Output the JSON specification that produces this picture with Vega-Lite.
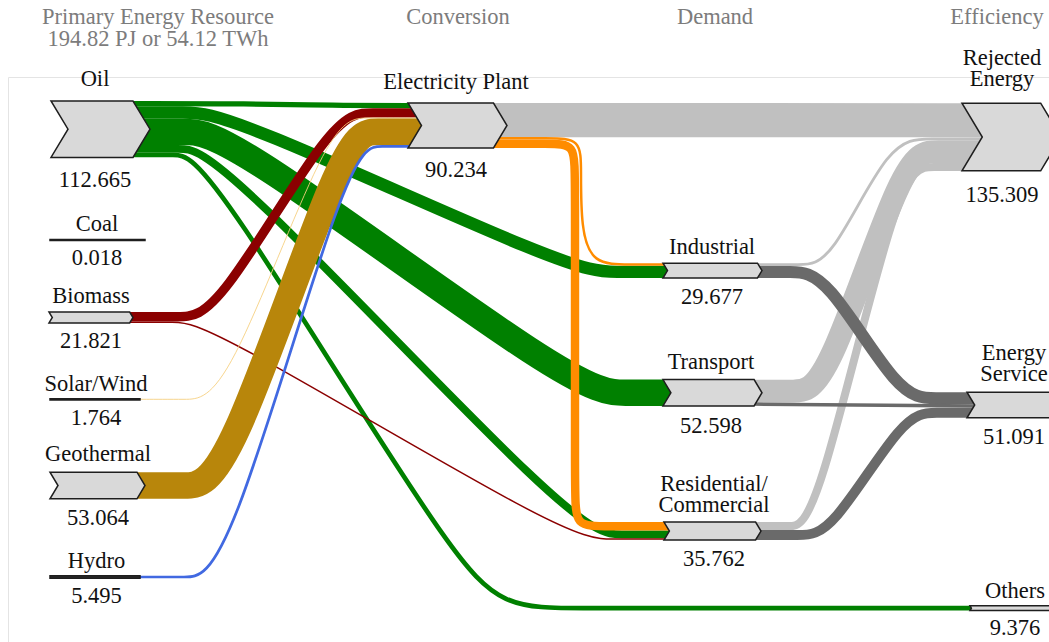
{
  "$schema": "https://vega.github.io/schema/vega-lite/v6.json",
  "autosize": "none",
  "width": 1041,
  "height": 565,
  "padding": {"left": 8, "top": 77, "right": 0, "bottom": 0},
  "background": "white",
  "config": {"view": {"stroke": "#e4e4e4", "strokeWidth": 1}, "font": "Liberation Serif"},
  "datasets": {
    "flows": [
      {"id": "oil-elec", "source": "Oil", "target": "Electricity Plant", "carrier": "Oil", "value": 10.5, "xs": [132, 250, 330, 424], "ys": [103.67, 103.67, 105.56, 105.56]},
      {"id": "oil-ind", "source": "Oil", "target": "Industrial", "carrier": "Oil", "value": 24.7, "xs": [132, 185, 225, 575, 615, 670], "ys": [112.47, 112.47, 112.47, 271.9, 271.9, 271.9]},
      {"id": "oil-trans", "source": "Oil", "target": "Transport", "carrier": "Oil", "value": 52.598, "xs": [132, 185, 225, 580, 625, 673], "ys": [131.79, 131.79, 131.79, 392.75, 392.75, 392.75]},
      {"id": "oil-res", "source": "Oil", "target": "Residential/Commercial", "carrier": "Oil", "value": 15.5, "xs": [132, 180, 215, 580, 620, 672], "ys": [148.82, 148.82, 148.82, 534.4, 534.4, 534.4]},
      {"id": "oil-others", "source": "Oil", "target": "Others", "carrier": "Oil", "value": 9.376, "xs": [132, 175, 205, 480, 525, 973], "ys": [155.03, 155.03, 155.03, 608.2, 608.2, 608.2]},
      {"id": "bio-elec", "source": "Biomass", "target": "Electricity Plant", "carrier": "Biomass", "value": 18.8, "xs": [128, 180, 215, 335, 370, 424], "ys": [316.75, 316.75, 316.75, 112.89, 112.89, 112.89]},
      {"id": "bio-res", "source": "Biomass", "target": "Residential/Commercial", "carrier": "Biomass", "value": 3.0, "xs": [128, 175, 205, 570, 610, 672], "ys": [322.2, 322.2, 322.2, 539.05, 539.05, 539.05]},
      {"id": "solar-elec", "source": "Solar/Wind", "target": "Electricity Plant", "carrier": "Solar/Wind", "value": 1.764, "xs": [139, 185, 225, 330, 365, 424], "ys": [399.3, 399.3, 399.3, 118.03, 118.03, 118.03]},
      {"id": "geo-elec", "source": "Geothermal", "target": "Electricity Plant", "carrier": "Geothermal", "value": 53.064, "xs": [136, 185, 225, 345, 375, 424], "ys": [485.5, 485.5, 485.5, 131.74, 131.74, 131.74]},
      {"id": "hydro-elec", "source": "Hydro", "target": "Electricity Plant", "carrier": "Hydro", "value": 5.495, "xs": [139, 185, 225, 350, 380, 424], "ys": [577, 577, 577, 146.37, 146.37, 146.37]},
      {"id": "elec-rej", "source": "Electricity Plant", "target": "Rejected Energy", "carrier": "Rejected", "value": 68.363, "xs": [492, 740, 985], "ys": [120.03, 120.15, 120.3]},
      {"id": "elec-ind", "source": "Electricity Plant", "target": "Industrial", "carrier": "Electricity", "value": 5.0, "xs": [492, 550, 581, 581, 581, 592, 630, 670], "ys": [138.37, 138.37, 138.37, 170, 228, 264.45, 264.45, 264.45]},
      {"id": "elec-res", "source": "Electricity Plant", "target": "Residential/Commercial", "carrier": "Electricity", "value": 16.87, "xs": [492, 550, 575, 575, 575, 575, 605, 672], "ys": [143.84, 143.84, 143.84, 175, 495, 526.3, 526.3, 526.3]},
      {"id": "ind-rej", "source": "Industrial", "target": "Rejected Energy", "carrier": "Rejected", "value": 5.5, "xs": [756, 800, 830, 890, 930, 985], "ys": [264.6, 264.6, 264.6, 138.75, 138.75, 138.75]},
      {"id": "trans-rej", "source": "Transport", "target": "Rejected Energy", "carrier": "Rejected", "value": 45.5, "xs": [753, 795, 825, 905, 935, 985], "ys": [391, 391, 391, 151.5, 151.5, 151.5]},
      {"id": "res-rej", "source": "Residential/Commercial", "target": "Rejected Energy", "carrier": "Rejected", "value": 16, "xs": [754, 790, 815, 900, 930, 985], "ys": [526.1, 526.1, 526.1, 166.9, 166.9, 166.9]},
      {"id": "ind-es", "source": "Industrial", "target": "Energy Service", "carrier": "Service", "value": 24.2, "xs": [756, 790, 825, 900, 935, 977], "ys": [272, 272, 272, 398.25, 398.25, 398.25]},
      {"id": "trans-es", "source": "Transport", "target": "Energy Service", "carrier": "Service", "value": 7.1, "xs": [753, 977], "ys": [404.1, 406.1]},
      {"id": "res-es", "source": "Residential/Commercial", "target": "Energy Service", "carrier": "Service", "value": 19.8, "xs": [754, 800, 830, 905, 935, 977], "ys": [535.05, 535.05, 535.05, 412.8, 412.8, 412.8]}
    ],
    "nodes": [
      {"node": "Oil", "label": "Oil", "value": 112.665, "x": 95, "y": 129.2},
      {"node": "Coal", "label": "Coal", "value": 0.018, "x": 97, "y": 240},
      {"node": "Biomass", "label": "Biomass", "value": 21.821, "x": 91, "y": 317.5},
      {"node": "Solar/Wind", "label": "Solar/Wind", "value": 1.764, "x": 96, "y": 399.3},
      {"node": "Geothermal", "label": "Geothermal", "value": 53.064, "x": 98, "y": 485.5},
      {"node": "Hydro", "label": "Hydro", "value": 5.495, "x": 96.5, "y": 577},
      {"node": "Electricity Plant", "label": "Electricity Plant", "value": 90.234, "x": 456, "y": 125.5},
      {"node": "Industrial", "label": "Industrial", "value": 29.677, "x": 712, "y": 270.6},
      {"node": "Transport", "label": "Transport", "value": 52.598, "x": 711, "y": 392.75},
      {"node": "Residential/Commercial", "label": "Residential/\nCommercial", "value": 35.762, "x": 714, "y": 531.05},
      {"node": "Rejected Energy", "label": "Rejected\nEnergy", "value": 135.309, "x": 1002, "y": 137},
      {"node": "Energy Service", "label": "Energy\nService", "value": 51.091, "x": 1014, "y": 405},
      {"node": "Others", "label": "Others", "value": 9.376, "x": 1015, "y": 608.2}
    ],
    "headers": [
      {"text": "Primary Energy Resource", "x": 158, "y": 24},
      {"text": "194.82 PJ or 54.12 TWh", "x": 158, "y": 46},
      {"text": "Conversion", "x": 458, "y": 24},
      {"text": "Demand", "x": 715, "y": 24},
      {"text": "Efficiency", "x": 997, "y": 24}
    ]
  },
  "encoding": {
    "x": {"field": "x", "type": "quantitative", "scale": {"domain": [8, 1049], "nice": false, "zero": false}, "axis": null},
    "y": {"field": "y", "type": "quantitative", "scale": {"domain": [77, 642], "reverse": true, "nice": false, "zero": false}, "axis": null}
  },
  "layer": [
    {
      "data": {"name": "flows"},
      "transform": [
        {"flatten": ["xs", "ys"], "as": ["x", "y"]},
        {"window": [{"op": "row_number", "as": "k"}], "groupby": ["id"]}
      ],
      "mark": {"type": "line", "interpolate": "basis", "strokeCap": "butt", "strokeJoin": "round"},
      "encoding": {
        "detail": {"field": "id", "type": "nominal"},
        "order": {"field": "k", "type": "quantitative"},
        "color": {
          "field": "carrier", "type": "nominal", "legend": null,
          "scale": {
            "domain": ["Oil", "Biomass", "Solar/Wind", "Geothermal", "Hydro", "Electricity", "Rejected", "Service"],
            "range": ["#008000", "#8b0000", "#f6cf7e", "#b8860b", "#4169e1", "#ff8c00", "#c0c0c0", "#6a6a6a"]
          }
        },
        "strokeWidth": {"field": "value", "type": "quantitative", "legend": null, "scale": {"domain": [0, 100], "range": [0, 50]}}
      }
    },
    {
      "data": {"name": "nodes"},
      "mark": {"type": "point", "filled": true, "size": 4, "opacity": 1, "stroke": "#1e1e1e", "strokeWidth": 1.5, "strokeJoin": "miter"},
      "encoding": {
        "shape": {
          "field": "node", "type": "nominal", "legend": null,
          "scale": {
            "domain": ["Oil", "Coal", "Biomass", "Solar/Wind", "Geothermal", "Hydro", "Electricity Plant", "Industrial", "Transport", "Residential/Commercial", "Rejected Energy", "Energy Service", "Others"],
            "range": [
              "M-44,-28.2L38,-28.2L55,0L38,28.2L-44,28.2L-27,0Z",
              "M-47,-0.4L48,-0.4L48,0.4L-47,0.4Z",
              "M-42,-5.45L38.7,-5.45L42,0L38.7,5.45L-42,5.45L-38.7,0Z",
              "M-46,-0.6L44,-0.6L44,0.6L-46,0.6Z",
              "M-48,-13.3L39,-13.3L47,0L39,13.3L-48,13.3L-40,0Z",
              "M-46.5,-1.2L43.5,-1.2L43.5,1.2L-46.5,1.2Z",
              "M-48,-22.5L37.5,-22.5L51,0L37.5,22.5L-48,22.5L-34.5,0Z",
              "M-49,-7.4L45.5,-7.4L50,0L45.5,7.4L-49,7.4L-44.5,0Z",
              "M-48,-13.15L43.1,-13.15L51,0L43.1,13.15L-48,13.15L-40.1,0Z",
              "M-50,-8.95L41.6,-8.95L47,0L41.6,8.95L-50,8.95L-44.6,0Z",
              "M-40,-33.8L38.7,-33.8L59,0L38.7,33.8L-40,33.8L-19.7,0Z",
              "M-47,-12.8L44.3,-12.8L52,0L44.3,12.8L-47,12.8L-39.3,0Z",
              "M-45,-2.35L52.6,-2.35L54,0L52.6,2.35L-45,2.35L-43.6,0Z"
            ]
          }
        },
        "fill": {"condition": {"test": "datum.value < 6", "value": "#2b2b2b"}, "value": "#d9d9d9"}
      }
    },
    {
      "data": {"name": "nodes"},
      "transform": [
        {"calculate": "max(datum.value / 4, 1.2)", "as": "hh"},
        {"calculate": "indexof(datum.label, '\\n') >= 0 ? 1 : 0", "as": "extraLines"},
        {"calculate": "datum.y - datum.hh - 2 - 0.3 * datum.hh - 21 * datum.extraLines", "as": "ly"}
      ],
      "mark": {"type": "text", "font": "Liberation Serif", "fontSize": 22.5, "baseline": "bottom", "align": "center", "lineBreak": "\n", "lineHeight": 21, "color": "#111111"},
      "encoding": {
        "y": {"field": "ly", "type": "quantitative", "scale": {"domain": [77, 642], "reverse": true, "nice": false, "zero": false}, "axis": null},
        "text": {"field": "label", "type": "nominal"}
      }
    },
    {
      "data": {"name": "nodes"},
      "transform": [
        {"calculate": "max(datum.value / 4, 1.2)", "as": "hh"},
        {"calculate": "datum.y + datum.hh + 6 + 0.2 * datum.hh", "as": "vy"}
      ],
      "mark": {"type": "text", "font": "Liberation Serif", "fontSize": 22.5, "baseline": "top", "align": "center", "color": "#111111"},
      "encoding": {
        "y": {"field": "vy", "type": "quantitative", "scale": {"domain": [77, 642], "reverse": true, "nice": false, "zero": false}, "axis": null},
        "text": {"field": "value", "type": "quantitative", "format": ".3f"}
      }
    },
    {
      "data": {"name": "headers"},
      "mark": {"type": "text", "font": "Liberation Serif", "fontSize": 22.5, "baseline": "alphabetic", "align": "center", "color": "#7c7c7c"},
      "encoding": {
        "text": {"field": "text", "type": "nominal"}
      }
    }
  ]
}
